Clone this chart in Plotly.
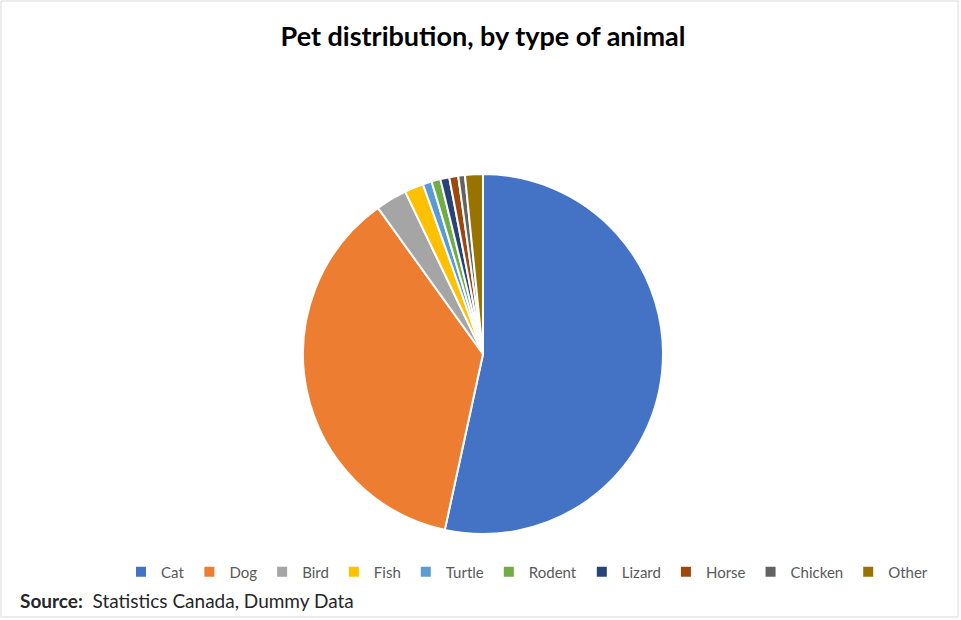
import plotly.graph_objects as go

categories = ["Cat", "Dog", "Bird", "Fish", "Turtle", "Rodent", "Lizard", "Horse", "Chicken", "Other"]
values = [53.3, 36.6, 2.8, 1.7, 0.8, 0.8, 0.8, 0.8, 0.6, 1.6]
colors = ["#4472C4", "#ED7D31", "#A5A5A5", "#FFC000", "#5B9BD5", "#70AD47",
          "#264478", "#9E480E", "#636363", "#997300"]

W, H = 961, 620
cx, cy, r = 483, 354, 180

fig = go.Figure(go.Pie(
    labels=categories, values=values, sort=False, direction="clockwise", rotation=0,
    marker=dict(colors=colors, line=dict(color="white", width=2)),
    textinfo="none", hoverinfo="label+percent",
    domain=dict(x=[(cx - r) / W, (cx + r) / W], y=[1 - (cy + r) / H, 1 - (cy - r) / H]),
))

fig.update_layout(
    width=W, height=H,
    margin=dict(l=0, r=0, t=0, b=0),
    paper_bgcolor="white", plot_bgcolor="white",
    font=dict(family="Lato, Open Sans, sans-serif", color="#595959"),
    title=dict(text="<b>Pet distribution, by type of animal</b>", x=483 / W, xanchor="center",
               y=1 - 37 / H, yanchor="middle",
               font=dict(size=27, color="black", family="Lato, sans-serif")),
    showlegend=True,
    legend=dict(orientation="h", x=527 / W, xanchor="center", y=1 - 572 / H, yanchor="middle",
                font=dict(size=15, color="#595959", family="Lato, sans-serif"), itemwidth=30,
                traceorder="normal", itemclick=False),
    annotations=[dict(text="<b>Source:</b>  Statistics Canada, Dummy Data", xref="paper", yref="paper",
                      x=18 / W, y=1 - 600 / H, xanchor="left", yanchor="middle", showarrow=False,
                      font=dict(size=19, color="#262626", family="Lato, sans-serif"))],
    shapes=[dict(type="rect", xref="paper", yref="paper", x0=1 / W, x1=958 / W, y0=1 - 617 / H, y1=1 - 1 / H,
                 line=dict(color="#d9d9d9", width=1))],
)

fig.write_html("out.html")
